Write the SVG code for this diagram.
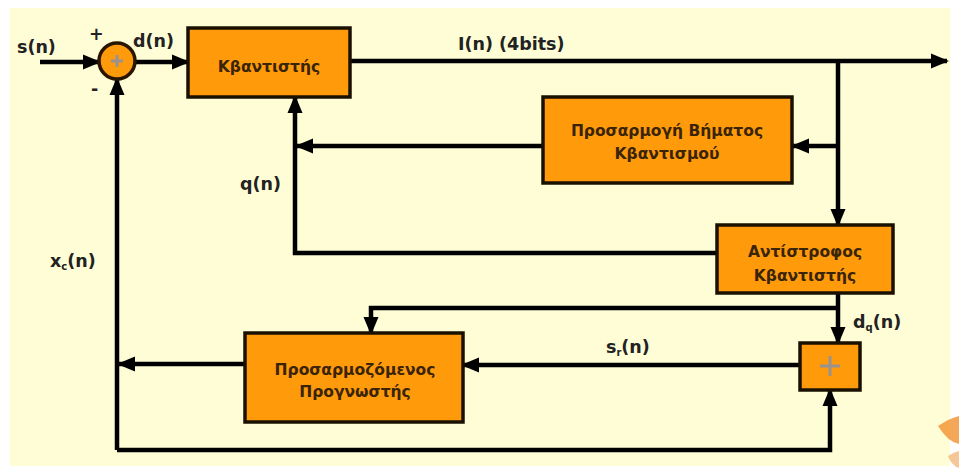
<svg xmlns="http://www.w3.org/2000/svg" width="959" height="472" viewBox="0 0 959 472">
<defs>
<marker id="arr" markerUnits="userSpaceOnUse" markerWidth="19" markerHeight="17" refX="16" refY="8.5" orient="auto">
<path d="M0,1 L18,8.5 L0,16 z" fill="#000"/>
</marker>
<style>
.ln{fill:none;stroke:#000;stroke-width:4.5}
.box{fill:#FF9A0A;stroke:#1a1000;stroke-width:3.5}
.bt{font-family:"DejaVu Sans",Verdana,sans-serif;font-size:15.5px;font-weight:bold;fill:#3a2408;text-anchor:middle}
.lb{font-family:"DejaVu Sans",Verdana,sans-serif;font-size:17.5px;font-weight:bold;fill:#222}
.sb{font-size:10px}
.plus{stroke:#9a9290;stroke-width:3;fill:none}
</style>
</defs>
<rect x="0" y="0" width="959" height="472" fill="#fff"/>
<rect x="10" y="8" width="940" height="458" fill="#FEFDD6"/>
<path d="M938 426 Q950 418 959 416 V444 Q948 442 938 426 z" fill="#F08A20" opacity="0.75"/>
<path d="M948 456 Q954 452 959 451 V468 Q952 466 948 456 z" fill="#F2A050" opacity="0.6"/>

<g id="connectors">
<path class="ln" d="M40 62 H99" marker-end="url(#arr)"/>
<path class="ln" d="M135 62 H188" marker-end="url(#arr)"/>
<path class="ln" d="M350 61 H947" marker-end="url(#arr)"/>
<path class="ln" d="M838 61 V225" marker-end="url(#arr)"/>
<path class="ln" d="M838 146 H793" marker-end="url(#arr)"/>
<path class="ln" d="M543 146 H297" marker-end="url(#arr)"/>
<path class="ln" d="M717 253 H295 V97" marker-end="url(#arr)"/>
<path class="ln" d="M838 293 V343" marker-end="url(#arr)"/>
<path class="ln" d="M838 308 H371 V333" marker-end="url(#arr)"/>
<path class="ln" d="M800 365 H463" marker-end="url(#arr)"/>
<path class="ln" d="M245 364 H119" marker-end="url(#arr)"/>
<path class="ln" d="M117 450 V79" marker-end="url(#arr)"/>
<path class="ln" d="M117 450 H830 V390" marker-end="url(#arr)"/>
</g>

<g id="sum1">
<circle cx="117" cy="61" r="18" fill="#FF9A0A" stroke="#2a1600" stroke-width="3.5"/>
<path class="plus" d="M111 61 H123 M117 55 V67" stroke-width="2"/>
</g>

<g id="quantizer">
<rect class="box" x="188" y="28" width="162" height="69"/>
<text class="bt" x="269" y="72">Κβαντιστής</text>
</g>

<g id="step-adapt">
<rect class="box" x="543" y="97" width="249" height="86"/>
<text class="bt" x="667" y="136">Προσαρμογή Βήματος</text>
<text class="bt" x="667" y="159">Κβαντισμού</text>
</g>

<g id="inv-quantizer">
<rect class="box" x="717" y="225" width="176" height="68"/>
<text class="bt" x="805" y="257">Αντίστροφος</text>
<text class="bt" x="805" y="281">Κβαντιστής</text>
</g>

<g id="sum2">
<rect class="box" x="800" y="343" width="60" height="47"/>
<path class="plus" d="M820 366 H840 M830 356 V376"/>
</g>

<g id="predictor">
<rect class="box" x="245" y="333" width="218" height="89"/>
<text class="bt" x="355" y="375">Προσαρμοζόμενος</text>
<text class="bt" x="355" y="397">Προγνωστής</text>
</g>

<g id="labels">
<text class="lb" x="17" y="53">s(n)</text>
<text class="lb" x="89" y="40">+</text>
<text class="lb" x="91" y="95">-</text>
<text class="lb" x="133" y="47">d(n)</text>
<text class="lb" x="458" y="50">I(n) (4bits)</text>
<text class="lb" x="240" y="190">q(n)</text>
<text class="lb" x="50" y="267">x<tspan class="sb" dy="3">c</tspan><tspan dy="-3">(n)</tspan></text>
<text class="lb" x="853" y="328">d<tspan class="sb" dy="3">q</tspan><tspan dy="-3">(n)</tspan></text>
<text class="lb" x="606" y="353">s<tspan class="sb" dy="3">r</tspan><tspan dy="-3">(n)</tspan></text>
</g>
</svg>
